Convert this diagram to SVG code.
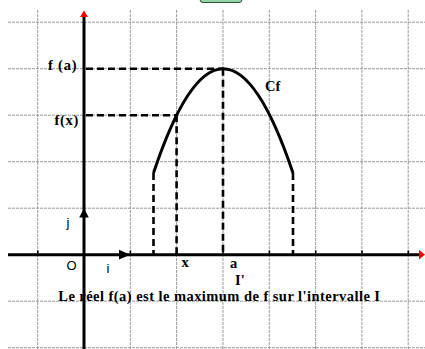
<svg xmlns="http://www.w3.org/2000/svg" width="425" height="349" viewBox="0 0 425 349">
  <style>
    .grid line { stroke: #9a9a9a; stroke-width: 1; stroke-dasharray: 3 1; }
    .axis { stroke: #000; stroke-width: 3; fill: none; }
    .dash { stroke: #000; stroke-width: 2.6; stroke-dasharray: 7 4; fill: none; }
    .curve { stroke: #000; stroke-width: 3; fill: none; }
    .tick { fill: #000; }
    .lbl { font-family: "Liberation Serif", "Times New Roman", serif; font-weight: bold; font-size: 14.5px; fill: #000; }
    .sans { font-family: "Liberation Sans", Arial, sans-serif; font-size: 13px; fill: #000; }
  </style>
  <rect width="425" height="349" fill="#fff"/>
  <rect x="200" y="-6" width="42" height="8.5" rx="3" fill="#93d4a4" stroke="#2f4f3a" stroke-width="1"/>

  <g id="grid" class="grid">
    <line x1="8" y1="22.2" x2="425" y2="22.2"/>
    <line x1="8" y1="68.7" x2="425" y2="68.7"/>
    <line x1="8" y1="115.2" x2="425" y2="115.2"/>
    <line x1="8" y1="161.7" x2="425" y2="161.7"/>
    <line x1="8" y1="208.2" x2="425" y2="208.2"/>
    <line x1="8" y1="301.2" x2="425" y2="301.2"/>
    <line x1="8" y1="347.7" x2="425" y2="347.7"/>
    <line x1="37.7" y1="10" x2="37.7" y2="349"/>
    <line x1="130.3" y1="10" x2="130.3" y2="349"/>
    <line x1="176.6" y1="10" x2="176.6" y2="349"/>
    <line x1="223" y1="10" x2="223" y2="349"/>
    <line x1="269.3" y1="10" x2="269.3" y2="349"/>
    <line x1="315.6" y1="10" x2="315.6" y2="349"/>
    <line x1="361.9" y1="10" x2="361.9" y2="349"/>
    <line x1="408.2" y1="10" x2="408.2" y2="349"/>
  </g>

  <g id="connectors">
    <line class="dash" x1="86" y1="68.7" x2="223" y2="68.7"/>
    <line class="dash" x1="86" y1="115.2" x2="176.6" y2="115.2"/>
    <line class="dash" x1="223" y1="68.7" x2="223" y2="254"/>
    <line class="dash" x1="176.6" y1="115.2" x2="176.6" y2="254"/>
    <line class="dash" x1="153.5" y1="173" x2="153.5" y2="254"/>
    <line class="dash" x1="293" y1="173" x2="293" y2="254"/>
  </g>

  <g id="axes">
    <line class="axis" x1="8" y1="254.7" x2="421" y2="254.7"/>
    <line class="axis" x1="84" y1="349" x2="84" y2="15"/>
    <polygon points="425,254.7 419,249.8 419,259.6" fill="#ff0000"/>
    <polygon points="84,10.5 80,17 88,17" fill="#ff0000"/>
    <g class="tick">
      <rect x="37" y="250.5" width="1.6" height="3"/>
      <rect x="129.6" y="250.5" width="1.6" height="3"/>
      <rect x="175.9" y="250.5" width="1.6" height="3"/>
      <rect x="222.3" y="250.5" width="1.6" height="3"/>
      <rect x="268.6" y="250.5" width="1.6" height="3"/>
      <rect x="314.9" y="250.5" width="1.6" height="3"/>
      <rect x="361.2" y="250.5" width="1.6" height="3"/>
      <rect x="407.5" y="250.5" width="1.6" height="3"/>
    </g>
  </g>

  <g id="unit-i">
    <polygon points="130.3,254.7 119,249.8 119,259.6" fill="#000"/>
    <text class="sans" x="106.5" y="273">i</text>
  </g>
  <g id="unit-j">
    <polygon points="84,208.2 79.2,217.5 88.8,217.5" fill="#000"/>
    <text class="sans" x="66.5" y="227">j</text>
  </g>
  <g id="origin">
    <text class="sans" x="66.5" y="270">O</text>
  </g>

  <g id="curve-cf">
    <path class="curve" d="M153.5,173 Q223,-35.6 293,173"/>
    <text class="lbl" x="265" y="91">Cf</text>
  </g>

  <g id="label-fa">
    <text class="lbl" x="48" y="70" textLength="28.6">f (a)</text>
  </g>
  <g id="label-fx">
    <text class="lbl" x="54.5" y="124.5" textLength="23.8">f(x)</text>
  </g>
  <g id="label-x">
    <text class="lbl" x="181.5" y="267.3">x</text>
  </g>
  <g id="label-a">
    <text class="lbl" x="230" y="268">a</text>
  </g>
  <g id="label-I">
    <text class="lbl" x="235" y="285">I'</text>
  </g>
  <g id="caption">
    <text class="lbl" x="58.3" y="301" textLength="321.7">Le réel f(a) est le maximum de f sur l'intervalle I</text>
  </g>
</svg>
